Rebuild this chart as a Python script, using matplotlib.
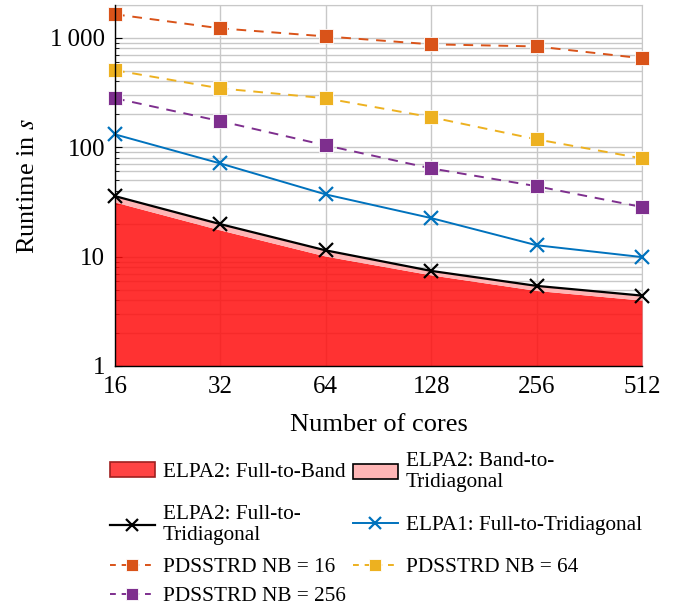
import matplotlib
matplotlib.use("Agg")
import matplotlib.pyplot as plt
from matplotlib.patches import Patch
from matplotlib.lines import Line2D
from matplotlib.ticker import NullFormatter, LogLocator

plt.rcParams['font.family'] = ['Liberation Serif', 'DejaVu Serif']
plt.rcParams['mathtext.fontset'] = 'stix'

cores = [16, 32, 64, 128, 256, 512]
xtick_labels = ["16", "32", "64", "128", "256", "512"]
ytick_values = [1, 10, 100, 1000]
ytick_labels = ["1", "10", "100", "1\u2009000"]

full_to_band = [31.5, 17.5, 10.1, 6.8, 4.9, 4.0]
elpa2_full_to_tri = [35.7, 19.8, 11.4, 7.4, 5.4, 4.4]
elpa1_full_to_tri = [131, 71, 37, 22.5, 12.7, 9.9]
pdsstrd_nb16 = [1640, 1220, 1030, 872, 834, 650]
pdsstrd_nb64 = [505, 345, 280, 188, 118, 79]
pdsstrd_nb256 = [280, 173, 104, 64, 44, 28.4]

C_RED = '#ff0e0e'
C_PINK = '#ffb6b6'
C_BLUE = '#0072bd'
C_ORANGE = '#d95319'
C_YELLOW = '#edb120'
C_PURPLE = '#7e2f8e'

fig = plt.figure(figsize=(6.91, 6.10), dpi=100)
ax = fig.add_axes([0.1664, 0.40, 0.7627, 0.592])

ax.fill_between(cores, 1, full_to_band, color=C_RED, alpha=0.85, lw=0, zorder=3)
ax.fill_between(cores, full_to_band, elpa2_full_to_tri, color=C_PINK, lw=0, zorder=3)
ax.plot(cores, elpa2_full_to_tri, color='black', lw=1.6, marker='x', ms=10, mew=1.6, zorder=5, clip_on=False)
ax.plot(cores, elpa1_full_to_tri, color=C_BLUE, lw=1.4, marker='x', ms=10, mew=1.6, zorder=5, clip_on=False)
for vals, c in [(pdsstrd_nb16, C_ORANGE), (pdsstrd_nb64, C_YELLOW), (pdsstrd_nb256, C_PURPLE)]:
    ax.plot(cores, vals, color=c, lw=1.4, ls=(0, (5, 4)), marker='s', ms=10,
            mfc=c, mec='#ffffff', mew=0.6, zorder=5, clip_on=False)

ax.set_xscale('log', base=2)
ax.set_yscale('log')
ax.set_xlim(16, 512)
ax.set_ylim(1, 2000)
ax.set_xticks(cores)
ax.set_xticklabels(xtick_labels)
ax.xaxis.set_minor_formatter(NullFormatter())
ax.tick_params(axis='x', which='minor', length=0)
ax.set_yticks(ytick_values)
ax.set_yticklabels(ytick_labels)
ax.yaxis.set_minor_locator(LogLocator(base=10, subs=range(2, 10)))
ax.yaxis.set_minor_formatter(NullFormatter())
ax.tick_params(axis='both', which='both', direction='in', labelsize=18)
ax.tick_params(axis='y', which='major', length=5, pad=7)
ax.tick_params(axis='y', which='minor', length=3)
ax.tick_params(axis='x', which='major', length=0, pad=7)

ax.grid(True, which='major', color='#c8c8c8', lw=1.0, zorder=1)
ax.grid(True, which='minor', axis='y', color='#c8c8c8', lw=1.0, zorder=1)
ax.set_axisbelow(True)
for s in ['top', 'right']:
    ax.spines[s].set_color('#c8c8c8')
for s in ['left', 'bottom']:
    ax.spines[s].set_color('black')
    ax.spines[s].set_linewidth(1.0)
    ax.spines[s].set_zorder(6)

ax.set_xlabel('Number of cores', fontsize=19, labelpad=12)
ax.set_ylabel('Runtime in $s$', fontsize=19, labelpad=8)

h_ftb = Patch(facecolor='#ff4444', edgecolor='#a02020', lw=1.2)
h_btt = Patch(facecolor=C_PINK, edgecolor='black', lw=1.2)
h_e2 = Line2D([], [], color='black', lw=1.6, marker='x', ms=9, mew=1.6)
h_e1 = Line2D([], [], color=C_BLUE, lw=1.4, marker='x', ms=9, mew=1.6)
h_16 = Line2D([], [], color=C_ORANGE, lw=1.4, ls=(0, (3, 3)), marker='s', ms=9, mec='white', mew=0.6)
h_64 = Line2D([], [], color=C_YELLOW, lw=1.4, ls=(0, (3, 3)), marker='s', ms=9, mec='white', mew=0.6)
h_256 = Line2D([], [], color=C_PURPLE, lw=1.4, ls=(0, (3, 3)), marker='s', ms=9, mec='white', mew=0.6)

W, H = 691.0, 610.0
col_x = [110, 353]
entries = [
    (h_ftb, 'ELPA2: Full-to-Band', 0, 472),
    (h_btt, 'ELPA2: Band-to-\nTridiagonal', 1, 472),
    (h_e2, 'ELPA2: Full-to-\nTridiagonal', 0, 525),
    (h_e1, 'ELPA1: Full-to-Tridiagonal', 1, 525),
    (h_16, 'PDSSTRD NB = 16', 0, 567),
    (h_64, 'PDSSTRD NB = 64', 1, 567),
    (h_256, 'PDSSTRD NB = 256', 0, 596),
]
for h, lab, col, yc in entries:
    fig.legend([h], [lab], loc='center left',
               bbox_to_anchor=(col_x[col] / W, 1 - yc / H),
               frameon=False, fontsize=15.3, handlelength=2.1, handleheight=0.66,
               handletextpad=0.38, borderaxespad=0, borderpad=0)

fig.savefig('out.png', dpi=100)
